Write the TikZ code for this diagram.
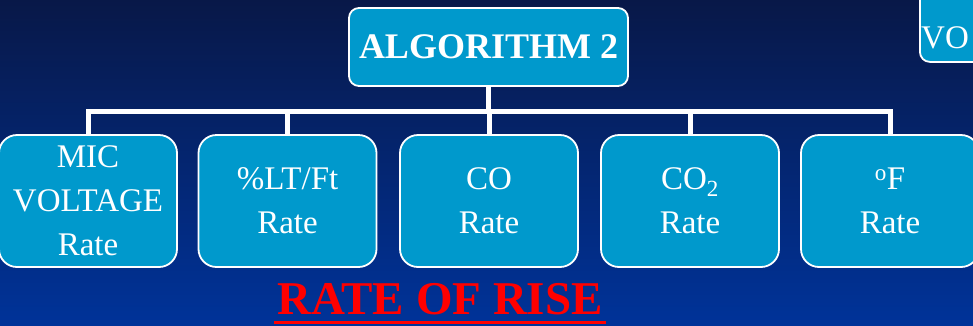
\documentclass[tikz,border=0pt]{standalone}
\usepackage{fontspec}
\setmainfont{Liberation Serif}
\definecolor{boxfill}{RGB}{0,153,204}
\definecolor{bgtop}{RGB}{8,24,72}
\definecolor{bgbottom}{RGB}{0,51,153}
\definecolor{titlered}{RGB}{255,0,0}
\tikzset{
  chartbox/.style={draw=white, line width=1.8pt, fill=boxfill, text=white,
    align=center, inner sep=0pt},
  leafbox/.style={chartbox, rounded corners=18pt, minimum width=178pt,
    minimum height=132pt, font=\fontsize{33}{44}\selectfont},
  rootbox/.style={chartbox, rounded corners=10pt, minimum width=279pt,
    minimum height=78pt, font=\fontsize{36}{40}\selectfont\bfseries},
  branch/.style={draw=white, line width=5pt, line join=miter}
}
\begin{document}
\begin{tikzpicture}[x=1pt, y=-1pt]
  % page frame and blue gradient background
  \useasboundingbox (0,0) rectangle (973,325);
  \shade[top color=bgtop, bottom color=bgbottom] (0,0) rectangle (973,325);
  \clip (0,0) rectangle (973,325);

  % root of the chart
  \node[rootbox] (root) at (488.5,47) {ALGORITHM 2};

  % partly visible box at the top right
  \node[chartbox, rounded corners=10pt, minimum width=90pt, minimum height=90pt,
        anchor=north west] (side) at (919,-29) {};
  \node[text=white, anchor=base west, inner sep=0pt,
        font=\fontsize{33}{44}\selectfont] (sidetext) at (921,48) {VO};

  % leaves
  \node[leafbox] (mic) at (88,201) {MIC\\VOLTAGE\\Rate};
  \node[leafbox] (lt)  at (287.5,201) {\%LT/Ft\\Rate};
  \node[leafbox] (co)  at (489,201) {CO\\Rate};
  \node[leafbox] (co2) at (690,201) {CO\textsubscript{2}\\Rate};
  \node[leafbox] (deg) at (890,201) {\textsuperscript{o}F\\Rate};

  % tree connectors
  \coordinate (junction) at (488.5,111);
  \draw[branch] (root.south) -- (junction);
  \foreach \leaf in {mic,lt,co,co2,deg}
    \draw[branch] (junction) -| (\leaf.north);

  % underlined caption
  \node[text=titlered, inner sep=0pt, anchor=base,
        font=\fontsize{47}{50}\selectfont\bfseries] (caption) at (440,314)
        {RATE OF RISE};
  \draw[titlered, line width=3pt] ([shift={(-3,8)}]caption.base west)
        -- ([shift={(3,8)}]caption.base east);
\end{tikzpicture}
\end{document}
